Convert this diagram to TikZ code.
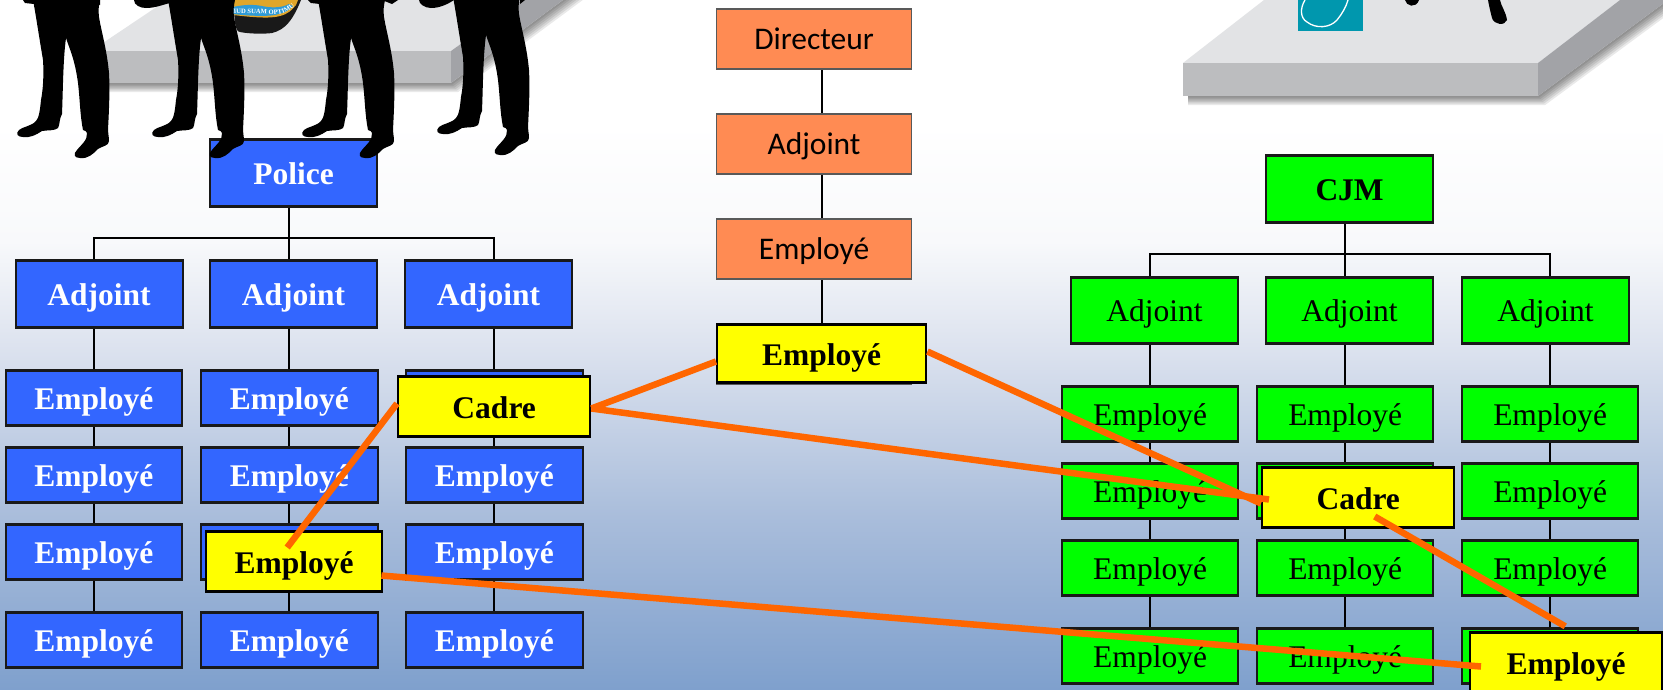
\documentclass[tikz,border=0pt]{standalone}
\usepackage{fontspec}
\setmainfont{Liberation Serif}
\newfontfamily\orgfont{Carlito}
\usetikzlibrary{decorations.text,calc}
\definecolor{bgd}{HTML}{7FA0CD}
\definecolor{bgc}{HTML}{A9BDDB}
\definecolor{bgb}{HTML}{DDE3EF}
\definecolor{bga}{HTML}{F8F9FB}
\pgfdeclareverticalshading{bggrad}{100bp}{
  color(0bp)=(bgd); color(25bp)=(bgd); color(37.5bp)=(bgc); color(50bp)=(bgb); color(57.5bp)=(bga); color(66bp)=(white); color(100bp)=(white)}
\definecolor{bluebox}{HTML}{3366FF}
\definecolor{greenbox}{HTML}{00FF00}
\definecolor{orgbox}{HTML}{FF8B53}
\definecolor{ynode}{HTML}{FFFF00}
\definecolor{linkc}{HTML}{FF6600}
\definecolor{plattop}{HTML}{E2E3E5}
\definecolor{platfront}{HTML}{BCBDBF}
\definecolor{platside}{HTML}{A2A3A7}
\definecolor{tealbox}{HTML}{0097AE}
\definecolor{badgegold}{HTML}{E0A62A}
\definecolor{badgeblue}{HTML}{2F9BD6}
\pgfdeclarelayer{back}
\pgfdeclarelayer{lines}
\pgfdeclarelayer{front}
\pgfsetlayers{back,lines,main,front}
\tikzset{
  x=1pt,y=-1pt,
  box/.style={draw=black!90,line width=2.2pt,inner sep=0pt,anchor=north west,align=center,text depth=0pt,text height=23pt,xshift=-1pt,yshift=.7pt},
  bluen/.style={box,fill=bluebox,text=white,font=\fontsize{31.5}{34}\selectfont\bfseries},
  greenn/.style={box,fill=greenbox,text=black,font=\fontsize{31.5}{34}\selectfont},
  greenb/.style={box,fill=greenbox,text=black,font=\fontsize{31.5}{34}\selectfont\bfseries},
  yellown/.style={box,draw=black,fill=ynode,text=black,font=\fontsize{31.5}{34}\selectfont\bfseries,line width=2.4pt},
  orgn/.style={box,fill=orgbox,text=black,draw=black!65,line width=1.2pt,text height=22pt,font=\fontsize{31.5}{34}\selectfont\orgfont},
  tree/.style={draw=black,line width=2pt},
  link/.style={draw=linkc,line width=6.5pt},
  man/.style={fill=black,draw=none},
}
\newcommand{\bbox}[6]{\node[#1,minimum width=#4pt,minimum height=#5pt] (#2) at (#3) {#6};}
% x-left, x-right, y-front-bottom, x where the side's lower edge meets the top of the page
\newcommand{\platshadow}[4]{%
  \foreach \h in {9,7.5,6,4.5,3,1.5}{
    \fill[black,opacity=.085] (#1+5,#3) -- (#1+5,#3+\h) -- (#2+\h*.8,#3+\h) -- (#4+\h*2.2,0) -- (#4,0) -- (#2,#3) -- cycle;
  }}
\newcommand{\legs}[1]{%
\fill[man,shift={(#1)}] (33,0) .. controls (35,10) and (38,30) .. (43,60) .. controls (44,75) and (43,90) .. (41,100)
 .. controls (40,110) and (39,118) .. (36,121) .. controls (32,126) and (22,127) .. (19,130) .. controls (15,134) and (18,137) .. (23,137)
 .. controls (30,138) and (36,135) .. (42,131) .. controls (47,130) and (55,131) .. (58,128) .. controls (60,125) and (59,119) .. (62,114)
 .. controls (63,90) and (63,60) .. (66,38) .. controls (70,50) and (75,60) .. (78,83) .. controls (80,100) and (80,115) .. (83,130)
 .. controls (85,131) and (87,131) .. (87,133) .. controls (88,140) and (80,146) .. (77,150) .. controls (73,154) and (74,158) .. (80,158)
 .. controls (88,159) and (93,154) .. (98,149) .. controls (102,146) and (109,146) .. (109,141) .. controls (109,136) and (108,134) .. (108,130)
 .. controls (109,110) and (110,90) .. (109,73) .. controls (107,50) and (101,30) .. (99,17) .. controls (98,10) and (99,5) .. (100,0) -- cycle;}
\begin{document}
\begin{tikzpicture}
\useasboundingbox (0,0) rectangle (1663,689);
\begin{pgfonlayer}{back}
\path[shading=bggrad] (0,0) rectangle (1663,689);
% left platform
\platshadow{93}{451}{83}{563}
\fill[plattop] (91,51) -- (167,0) -- (522,0) -- (451,51) -- cycle;
\fill[platfront] (91,51) rectangle (451,83);
\fill[platside] (451,51) -- (522,0) -- (563,0) -- (451,83) -- cycle;
% right platform
\platshadow{1183}{1538}{96}{1668}
\fill[plattop] (1183,63) -- (1264,0) -- (1620,0) -- (1538,63) -- cycle;
\fill[platfront] (1183,63) rectangle (1538,96);
\fill[platside] (1538,63) -- (1620,0) -- (1668,0) -- (1538,96) -- cycle;
% logo on the right platform
\fill[tealbox] (1298,0) rectangle (1363,31);
\draw[white,line width=1.3pt] (1305,0) .. controls (1300,8) and (1300,18) .. (1307,22) .. controls (1316,29) and (1330,28) .. (1337,20) .. controls (1342,14) and (1346,7) .. (1348,0);
\fill[black] (1405,0) .. controls (1406,6) and (1416,9) .. (1419,0) -- cycle;
\fill[black] (1488,0) .. controls (1489,6) and (1491,14) .. (1492,18) .. controls (1494,25) and (1505,26) .. (1507,20) .. controls (1506,12) and (1501,6) .. (1500,0) -- cycle;
% badge
\fill[black!90] (233,0) -- (235,23) .. controls (236,28) and (237,32) .. (240,32) .. controls (250,34) and (265,34) .. (272,33) .. controls (285,30) and (293,20) .. (301,0) -- cycle;
\fill[badgegold] (233,15) .. controls (250,17) and (270,19) .. (280,16) .. controls (288,14) and (292,10) .. (296,5) -- (298,0) -- (233,0) -- cycle;
\fill[badgeblue] (233,14) .. controls (250,16) and (270,17) .. (279,14) .. controls (287,12) and (290,9) .. (293,6) -- (289,4) .. controls (282,8) and (270,8) .. (262,6) .. controls (252,4) and (242,5) .. (233,7) -- cycle;
\path[decorate,decoration={text along path,text align=center,raise=-1.8pt,
  text={|\fontsize{6.6}{7}\selectfont\bfseries\color{white}|ALIUD SUAM OPTIMUM}}]
  (233,12) .. controls (250,10) and (268,14) .. (279,12) .. controls (285,11) and (288,9) .. (292,6);
\end{pgfonlayer}

% centre column
\bbox{orgn}{d1}{717,9}{195}{60}{Directeur}
\bbox{orgn}{d2}{717,114}{195}{60}{Adjoint}
\bbox{orgn}{d3}{717,219}{195}{60}{Employé}
\bbox{orgn}{d4}{717,324}{195}{60}{}
% left nodes
\bbox{bluen}{police}{210,139}{167}{67}{Police}
\bbox{bluen}{la}{15.5,260}{167}{67}{Adjoint}
\bbox{bluen}{lb}{210,260}{167}{67}{Adjoint}
\bbox{bluen}{lc}{405,260}{167}{67}{Adjoint}
\foreach \nm/\x in {a/5.5,b/201,c/406}{
  \foreach \i/\y in {1/370,2/447,3/524,4/612}{
    \node[bluen,minimum width=176.5pt,minimum height=55pt] (l\nm\i) at (\x,\y) {Employé};
  }
}
% right nodes
\bbox{greenb}{cjm}{1266,155}{167}{67}{CJM}
\bbox{greenn}{ra}{1071,277}{167}{66}{Adjoint}
\bbox{greenn}{rb}{1266,277}{167}{66}{Adjoint}
\bbox{greenn}{rc}{1462,277}{167}{66}{Adjoint}
\foreach \nm/\x in {a/1062,b/1257,c/1462}{
  \foreach \i/\y in {1/386,2/463,3/540,4/628}{
    \node[greenn,minimum width=176pt,minimum height=55pt] (r\nm\i) at (\x,\y) {Employé};
  }
}
% yellow nodes
\bbox{yellown}{ycadre}{398,376}{192}{60}{Cadre}
\bbox{yellown}{yemp}{206,531}{176}{60}{Employé}
\bbox{yellown}{ydir}{717,324}{209}{58}{Employé}
\bbox{yellown}{ycadrer}{1262,467}{192}{60}{Cadre}
\bbox{yellown}{yempr}{1470,632}{192}{60}{Employé}

% tree connectors
\coordinate (lbus) at (0,238);
\coordinate (rbus) at (0,254);
\begin{pgfonlayer}{lines}
\draw[tree] ([xshift=7.5pt]d1.center) -- ([xshift=7.5pt]d4.center);
\draw[tree] (la4.center) -- (la1.center) -- (la1 |- lbus) -- (lc1 |- lbus) -- (lc1.center) -- (lc4.center);
\draw[tree] (police.south -| lb1) -- (lb4.center);
\draw[tree] (ra4.center) -- (ra1.center) -- (ra1 |- rbus) -- (rc1 |- rbus) -- (rc1.center) -- (rc4.center);
\draw[tree] (cjm.south -| rb1) -- (rb4.center);
\end{pgfonlayer}

\begin{pgfonlayer}{front}
% men
\legs{0,0}\legs{135,0}\legs{285,0}\legs{420,-3}
\fill[black] (23,0) -- (25,3) -- (34,4) -- (34,0) -- cycle;
\fill[black] (87,0) -- (100,5) -- (100,0) -- cycle;
\fill[black] (134,0) .. controls (134,5) and (140,8) .. (146,8) .. controls (155,8) and (162,5) .. (170,3) -- (170,0) -- cycle;
\fill[black] (308,0) -- (311,3) -- (320,4) -- (320,0) -- cycle;
\fill[black] (382,0) -- (392,4) -- (398,0) -- cycle;
\fill[black] (419,0) .. controls (419,4) and (425,8) .. (431,8) .. controls (440,8) and (448,4) .. (454,0) -- cycle;
\fill[black] (520,0) -- (520,4) -- (525,0) -- cycle;
% orange links
\draw[link] ([shift={(-7pt,14pt)}]yemp.center) -- ([yshift=3pt]ycadre.west);
\draw[link] ([yshift=-2pt]ycadre.east) -- ([yshift=-8pt]ydir.west);
\draw[link] ([yshift=-2pt]ycadre.east) -- ([shift={(8pt,-2pt)}]ycadrer.west);
\draw[link] ([yshift=2pt]ydir.east) -- ([yshift=-6pt]ycadrer.west);
\draw[link] ([shift={(-2pt,-14pt)}]yemp.east) -- ([shift={(12pt,-4pt)}]yempr.west);
\draw[link] ([shift={(16.5pt,-19pt)}]ycadrer.center) -- ([shift={(-1pt,5pt)}]yempr.north);
\end{pgfonlayer}
\end{tikzpicture}
\end{document}
